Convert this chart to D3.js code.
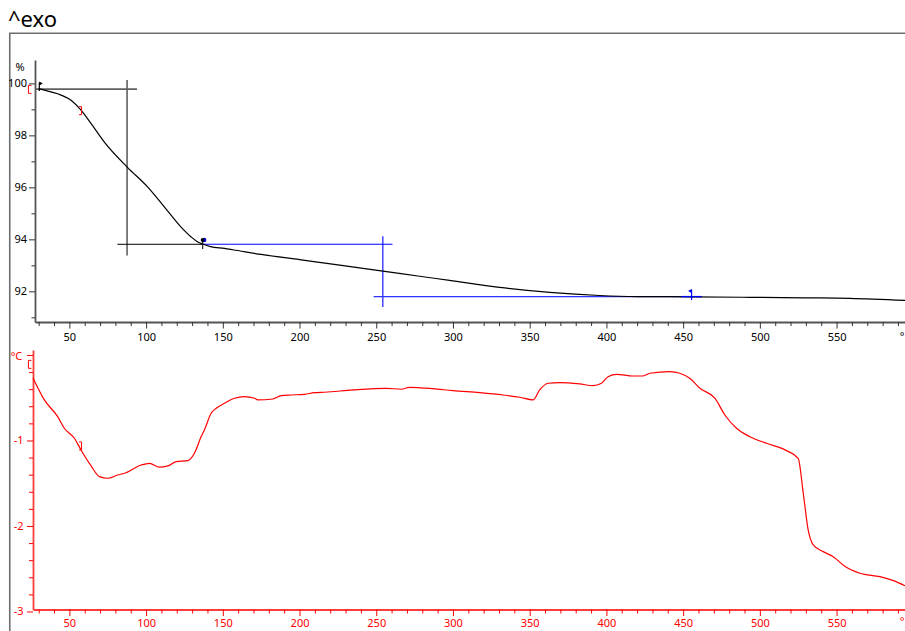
<!DOCTYPE html>
<html>
<head>
<meta charset="utf-8">
<script src="https://cdn.jsdelivr.net/npm/d3@7"></script>
<style>
  html, body { margin: 0; padding: 0; background: #fff; }
  svg { display: block; }
  text { font-family: "Noto Sans", "DejaVu Sans", sans-serif; }
</style>
</head>
<body>
<script>
// ---- TGA mass curve (%) ----
const tgaTemp = [30, 35, 42.4, 51.1, 57.6, 64.2, 72.8, 88, 101.1, 112, 122.8, 129.4, 133.7, 136.9, 142, 151.1, 156.5, 175, 200, 225, 254.3, 278.3, 297.8, 330.4, 363, 395.6, 420, 454, 493.5, 530, 558.7, 594.6];
const tgaMass = [99.8, 99.72, 99.6, 99.35, 98.97, 98.45, 97.74, 96.76, 96.01, 95.24, 94.47, 94.09, 93.9, 93.82, 93.72, 93.65, 93.6, 93.42, 93.22, 93.02, 92.78, 92.58, 92.42, 92.15, 91.96, 91.84, 91.8, 91.79, 91.77, 91.75, 91.73, 91.65];

// ---- DSC signal (°C) ----
const dscTemp = [26.3, 33.7, 42.4, 46.7, 53.3, 57.6, 64.2, 69.6, 75.0, 81.5, 85.9, 96.8, 102.2, 108.7, 114.1, 119.6, 127.2, 131.5, 135.9, 138.0, 142.4, 145.7, 151.1, 157.6, 164.1, 170.7, 172.8, 182.6, 188.1, 194.6, 203.3, 209.8, 216.3, 234.8, 256.5, 266.3, 271.7, 286.9, 300, 317.4, 332.6, 343.5, 352.2, 356.5, 362, 369.6, 382.6, 391.3, 396.8, 401.1, 406.6, 417.4, 423.9, 428.3, 441.3, 447.8, 454.3, 460.9, 470.7, 477.2, 484.8, 493.5, 504.3, 517.4, 525, 528.3, 531.5, 534.8, 541.3, 547.8, 555.6, 565.2, 578.3, 587, 594.6];
const dscVal = [-0.27, -0.526, -0.722, -0.857, -0.974, -1.111, -1.298, -1.423, -1.442, -1.404, -1.384, -1.287, -1.267, -1.313, -1.298, -1.248, -1.236, -1.150, -0.955, -0.877, -0.682, -0.623, -0.565, -0.506, -0.488, -0.506, -0.526, -0.515, -0.476, -0.468, -0.460, -0.441, -0.436, -0.409, -0.390, -0.401, -0.378, -0.394, -0.418, -0.441, -0.468, -0.495, -0.526, -0.409, -0.331, -0.324, -0.339, -0.359, -0.331, -0.254, -0.226, -0.246, -0.246, -0.214, -0.195, -0.214, -0.273, -0.390, -0.506, -0.702, -0.857, -0.956, -1.033, -1.119, -1.209, -1.617, -2.047, -2.222, -2.300, -2.359, -2.475, -2.553, -2.593, -2.640, -2.70];

// ---- tick values ----
const tempTicks = d3.range(30, 595, 10);
const tempLabels = [50, 100, 150, 200, 250, 300, 350, 400, 450, 500, 550];
const massTicks = d3.range(91, 101, 1);
const massLabels = [92, 94, 96, 98, 100];
const dscTicks = d3.range(-30, 1, 2).map(v => v / 10);
const dscLabels = [-1, -2, -3];

// ---- step evaluation (mass loss steps) ----
// step 1 baselines & inflection
const step1Upper = { mass: 99.78, from: 27.6, to: 94.1 };
const step1Inflect = { temp: 87.6, from: 100.13, to: 93.38 };
const step1Lower = { mass: 93.81, from: 81.3, to: 136.9 };
// step 2 baselines & inflection
const step2Upper = { mass: 93.81, from: 136.9, to: 260.6 };
const step2Inflect = { temp: 254.3, from: 94.12, to: 91.4 };
const step2Lower = { mass: 91.8, from: 248.3, to: 462.2 };
// cursor markers
const startFlag = { temp: 30.4, mass: 99.8 };
const kneeMark = { temp: 136.9, mass: 93.82 };
const endFlag = { temp: 455.5, mass: 91.8 };
// integration range brackets
const rangeTemp = [24.3, 57.3];
const rangeMass = [99.77, 98.95];
const rangeDsc = [-0.11, -1.064];

const W = 905, H = 631;
const FONT = "Noto Sans, DejaVu Sans, sans-serif";
const svg = d3.select("body").append("svg").attr("width", W).attr("height", H);

// frame
svg.append("path")
  .attr("d", "M9.75,640 V33.25 H910")
  .attr("fill", "none").attr("stroke", "#6e6e6e").attr("stroke-width", 1.6);

svg.append("text").attr("x", 8).attr("y", 26.5)
  .attr("font-family", "Liberation Sans, Arial, sans-serif")
  .attr("font-size", 22).attr("fill", "#000").text("^exo");

// ---------- top panel: TGA ----------
const xTop = d3.scaleLinear().domain([27.6, 594.6]).range([35, 905]);
const yTop = d3.scaleLinear().domain([90.82, 100.9]).range([322, 60]);

const gTop = svg.append("g");

// x axis
const xAxisTop = d3.axisBottom(xTop).tickValues(tempTicks)
  .tickFormat(d => tempLabels.includes(d) ? d : "").tickSizeOuter(0).tickPadding(5.5);
const gxTop = gTop.append("g").attr("transform", "translate(0,322)").call(xAxisTop);
gxTop.select(".domain").attr("stroke", "#555").attr("stroke-width", 1.8);
gxTop.selectAll(".tick line").attr("stroke", "#333")
  .attr("y2", d => tempLabels.includes(d) ? 6.5 : 4);
gxTop.selectAll(".tick text").attr("font-size", 11).attr("fill", "#000")
  .attr("font-family", FONT);
gTop.append("text").attr("x", 902).attr("y", 340).attr("text-anchor", "middle")
  .attr("font-size", 11).text("°");

// y axis
const yAxisTop = d3.axisLeft(yTop).tickValues(massTicks)
  .tickFormat(d => massLabels.includes(d) ? d : "").tickSizeOuter(0).tickPadding(2);
const gyTop = gTop.append("g").attr("transform", "translate(35,0)").call(yAxisTop);
gyTop.select(".domain").attr("stroke", "#555").attr("stroke-width", 1.8);
gyTop.selectAll(".tick line").attr("stroke", "#333")
  .attr("x2", d => massLabels.includes(d) ? -6 : -3.5);
gyTop.selectAll(".tick text").attr("font-size", 11).attr("fill", "#000")
  .attr("font-family", FONT).attr("x", -8);
gTop.append("text").attr("x", 20).attr("y", 71).attr("text-anchor", "middle")
  .attr("font-size", 11).text("%");

// construction lines
const hLine = (g, s, x, y, color, w) => g.append("line")
  .attr("x1", x(s.from)).attr("x2", x(s.to)).attr("y1", y(s.mass)).attr("y2", y(s.mass))
  .attr("stroke", color).attr("stroke-width", w);
const vLine = (g, s, x, y, color, w) => g.append("line")
  .attr("x1", x(s.temp)).attr("x2", x(s.temp)).attr("y1", y(s.from)).attr("y2", y(s.to))
  .attr("stroke", color).attr("stroke-width", w);

hLine(gTop, step1Upper, xTop, yTop, "#606060", 1.6);
vLine(gTop, step1Inflect, xTop, yTop, "#606060", 1.6);
hLine(gTop, step1Lower, xTop, yTop, "#000", 1);
hLine(gTop, step2Upper, xTop, yTop, "#0000ff", 1.1);
vLine(gTop, step2Inflect, xTop, yTop, "#0000ff", 1.1);
hLine(gTop, step2Lower, xTop, yTop, "#3030ff", 1.3);

// TGA curve
const tgaLine = d3.line().x(d => xTop(d[0])).y(d => yTop(d[1])).curve(d3.curveMonotoneX);
gTop.append("path").datum(d3.zip(tgaTemp, tgaMass))
  .attr("d", tgaLine).attr("fill", "none").attr("stroke", "#000").attr("stroke-width", 1.2);

// start flag (black)
{
  const fx = xTop(startFlag.temp), fy = yTop(startFlag.mass);
  gTop.append("path").attr("d", `M${fx},${fy + 2.5} V${fy - 6}`).attr("stroke", "#000").attr("stroke-width", 1.2);
  gTop.append("path").attr("d", `M${fx},${fy - 7} L${fx + 3.5},${fy - 5} L${fx},${fy - 3} Z`).attr("fill", "#000");
}
// knee marker
{
  const kx = xTop(kneeMark.temp), ky = yTop(kneeMark.mass);
  gTop.append("line").attr("x1", kx).attr("x2", kx).attr("y1", ky - 3).attr("y2", ky + 5)
    .attr("stroke", "#000").attr("stroke-width", 1);
  gTop.append("circle").attr("cx", kx + 1.5).attr("cy", ky - 4).attr("r", 2.2).attr("fill", "#0000ff");
  gTop.append("circle").attr("cx", kx).attr("cy", ky - 4).attr("r", 2).attr("fill", "#000");
}
// end flag (blue)
{
  const ex = xTop(endFlag.temp), ey = yTop(endFlag.mass);
  gTop.append("line").attr("x1", ex).attr("x2", ex).attr("y1", ey - 7).attr("y2", ey + 3.5)
    .attr("stroke", "#0000ff").attr("stroke-width", 1.2);
  gTop.append("line").attr("x1", ex - 10).attr("x2", ex + 10).attr("y1", ey).attr("y2", ey)
    .attr("stroke", "#0000ff").attr("stroke-width", 1.2);
  gTop.append("path").attr("d", `M${ex},${ey - 7.5} L${ex - 3.5},${ey - 5.5} L${ex},${ey - 3.5} Z`).attr("fill", "#0000ff");
}

// range brackets
const bracket = (g, tx, ty, open) => {
  const h = 4;
  const d = open
    ? `M${tx + 1.5},${ty - h} H${tx - 1.5} V${ty + h} H${tx + 1.5}`
    : `M${tx - 1.5},${ty - h} H${tx + 1} V${ty + h} H${tx - 1.5}`;
  g.append("path").attr("d", d).attr("fill", "none").attr("stroke", "#ff0000").attr("stroke-width", 1);
};
bracket(gTop, xTop(rangeTemp[0]), yTop(rangeMass[0]), true);
bracket(gTop, xTop(rangeTemp[1]), yTop(rangeMass[1]), false);

// ---------- bottom panel: DSC ----------
const xBot = d3.scaleLinear().domain([26.3, 594.6]).range([33, 905]);
const yBot = d3.scaleLinear().domain([-2.977, 0.058]).range([609.5, 350]);
const red = "#ff0000";
const gBot = svg.append("g");

const xAxisBot = d3.axisBottom(xBot).tickValues(tempTicks)
  .tickFormat(d => tempLabels.includes(d) ? d : "").tickSizeOuter(0).tickPadding(4);
const gxBot = gBot.append("g").attr("transform", "translate(0,609.5)").call(xAxisBot);
gxBot.select(".domain").attr("stroke", "#ff3c3c").attr("stroke-width", 1.8);
gxBot.selectAll(".tick line").attr("stroke", red)
  .attr("y2", d => tempLabels.includes(d) ? 6.5 : 4);
gxBot.selectAll(".tick text").attr("font-size", 11).attr("fill", red)
  .attr("font-family", FONT);
gBot.append("text").attr("x", 902).attr("y", 625).attr("text-anchor", "middle")
  .attr("font-size", 11).attr("fill", red).text("°");

const yAxisBot = d3.axisLeft(yBot).tickValues(dscTicks)
  .tickFormat(d => dscLabels.includes(d) ? d : "").tickSizeOuter(0).tickPadding(2);
const gyBot = gBot.append("g").attr("transform", "translate(33,0)").call(yAxisBot);
gyBot.select(".domain").attr("stroke", "#ff3c3c").attr("stroke-width", 1.8);
gyBot.selectAll(".tick line").attr("stroke", red)
  .attr("x2", d => Number.isInteger(d) ? -6 : -4);
gyBot.selectAll(".tick text").attr("font-size", 11).attr("fill", red)
  .attr("font-family", FONT).attr("x", -9.5);
gBot.append("text").attr("x", 16.5).attr("y", 359.5).attr("text-anchor", "middle")
  .attr("font-size", 11).attr("fill", red).text("°C");

const dscLine = d3.line().x(d => xBot(d[0])).y(d => yBot(d[1])).curve(d3.curveMonotoneX);
gBot.append("path").datum(d3.zip(dscTemp, dscVal))
  .attr("d", dscLine).attr("fill", "none").attr("stroke", red).attr("stroke-width", 1.2);

bracket(gBot, xBot(rangeTemp[0]), yBot(rangeDsc[0]), true);
bracket(gBot, xBot(rangeTemp[1]), yBot(rangeDsc[1]), false);
</script>
</body>
</html>
